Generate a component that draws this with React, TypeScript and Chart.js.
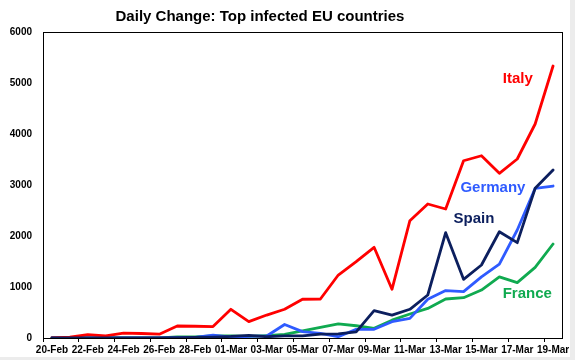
import React, { useEffect, useRef } from 'react';
import { Chart, registerables } from 'chart.js';

Chart.register(...registerables);

const dates = [
  '20-Feb', '21-Feb', '22-Feb', '23-Feb', '24-Feb', '25-Feb', '26-Feb', '27-Feb', '28-Feb', '29-Feb',
  '01-Mar', '02-Mar', '03-Mar', '04-Mar', '05-Mar', '06-Mar', '07-Mar', '08-Mar', '09-Mar', '10-Mar',
  '11-Mar', '12-Mar', '13-Mar', '14-Mar', '15-Mar', '16-Mar', '17-Mar', '18-Mar', '19-Mar',
];

const italy = [0, 15, 65, 40, 95, 88, 75, 235, 230, 225, 563, 320, 450, 563, 760, 765, 1235, 1496, 1778, 955, 2300, 2627, 2529, 3476, 3574, 3229, 3510, 4196, 5333];
const germany = [0, 0, 0, 0, 0, 0, 0, 5, 10, 55, 15, 30, 40, 265, 125, 90, 25, 170, 170, 320, 385, 760, 930, 910, 1200, 1450, 2118, 2935, 2980];
const spain = [0, 0, 0, 0, 0, 1, 2, 5, 12, 19, 30, 50, 25, 40, 40, 75, 80, 120, 535, 450, 563, 843, 2065, 1150, 1431, 2084, 1869, 2935, 3294];
const france = [0, 0, 0, 0, 0, 2, 4, 20, 20, 40, 43, 30, 48, 70, 138, 210, 275, 240, 190, 350, 470, 580, 765, 790, 940, 1200, 1085, 1385, 1843];

const yMin = 0;
const yMax = 6000;
const yStep = 1000;

const titleText = 'Daily Change: Top infected EU countries';

const FONT = "'Liberation Sans', Arial, sans-serif";

const colors = {
  italy: '#ff0000',
  germany: '#2f5bff',
  spain: '#0c1f5e',
  france: '#10aa50',
};

const nameLabels = [
  { text: 'Italy', color: colors.italy, at: [26.03, 5000] },
  { text: 'Germany', color: colors.germany, at: [24.64, 2863] },
  { text: 'Spain', color: colors.spain, at: [23.58, 2255] },
  { text: 'France', color: colors.france, at: [26.56, 784] },
];

const decorPlugin = {
  id: 'decor',
  beforeDraw(chart: any) {
    const { ctx, width, height } = chart;
    ctx.save();
    ctx.fillStyle = '#ececec';
    ctx.fillRect(0, 0, width, height);
    ctx.fillStyle = '#ffffff';
    ctx.fillRect(0, 0, 570, 357);
    ctx.restore();
  },
  beforeDatasetsDraw(chart: any) {
    const { ctx, chartArea: a } = chart;
    ctx.save();
    ctx.strokeStyle = '#000000';
    ctx.lineWidth = 1;
    ctx.strokeRect(Math.round(a.left) + 0.5, Math.round(a.top) + 0.5, Math.round(a.right - a.left), Math.round(a.bottom - a.top));
    ctx.restore();
  },
  afterDatasetsDraw(chart: any) {
    const { ctx } = chart;
    const xs = chart.scales.x;
    const ys = chart.scales.y;
    ctx.save();
    ctx.font = `bold 15px ${FONT}`;
    ctx.textAlign = 'center';
    ctx.textBaseline = 'alphabetic';
    for (const l of nameLabels) {
      ctx.fillStyle = l.color;
      ctx.fillText(l.text, xs.getPixelForValue(l.at[0]), ys.getPixelForValue(l.at[1]));
    }
    ctx.fillStyle = '#000000';
    ctx.fillText(titleText, 260, 21);
    ctx.restore();
  },
};

export default function App() {
  const ref = useRef<HTMLCanvasElement>(null);
  useEffect(() => {
    document.body.style.margin = '0';
    const tickFont = { family: FONT, size: 10, weight: 'bold' as const };
    const chart = new Chart(ref.current!, {
      type: 'line',
      data: {
        labels: dates,
        datasets: [
          { label: 'Spain', data: spain, borderColor: colors.spain, backgroundColor: colors.spain },
          { label: 'Italy', data: italy, borderColor: colors.italy, backgroundColor: colors.italy },
          { label: 'Germany', data: germany, borderColor: colors.germany, backgroundColor: colors.germany },
          { label: 'France', data: france, borderColor: colors.france, backgroundColor: colors.france },
        ],
      },
      options: {
        responsive: false,
        animation: false,
        layout: { padding: { left: 0, right: 13, top: 32, bottom: 0 } },
        plugins: {
          legend: { display: false },
          title: { display: false },
          tooltip: { enabled: false },
        },
        elements: {
          point: { radius: 0, hoverRadius: 0 },
          line: { tension: 0, borderWidth: 2.8, borderJoinStyle: 'round', borderCapStyle: 'round' },
        },
        scales: {
          x: {
            offset: true,
            grid: {
              display: true,
              offset: true,
              drawOnChartArea: false,
              drawTicks: true,
              tickLength: 4,
              color: (c: any) => (c.index % 2 === 0 ? '#000000' : 'rgba(0,0,0,0)'),
            },
            border: { display: true, color: '#000000', width: 1 },
            ticks: {
              autoSkip: false,
              maxRotation: 0,
              minRotation: 0,
              padding: 2,
              color: '#000000',
              font: tickFont,
              callback: (_v: any, i: number) => (i % 2 === 0 ? dates[i] : ''),
            },
            afterFit: (s: any) => {
              s.height = 22;
            },
          },
          y: {
            min: yMin,
            max: yMax,
            grid: { display: false, drawTicks: false },
            border: { display: true, color: '#000000', width: 1 },
            ticks: {
              stepSize: yStep,
              padding: 11,
              color: '#000000',
              font: tickFont,
              callback: (v: any) => String(v),
            },
            afterFit: (s: any) => {
              s.width = 43;
            },
          },
        },
      },
      plugins: [decorPlugin],
    });
    return () => chart.destroy();
  }, []);
  return (
    <div style={{ width: 575, height: 360 }}>
      <canvas ref={ref} width={575} height={360} style={{ display: 'block' }} />
    </div>
  );
}
